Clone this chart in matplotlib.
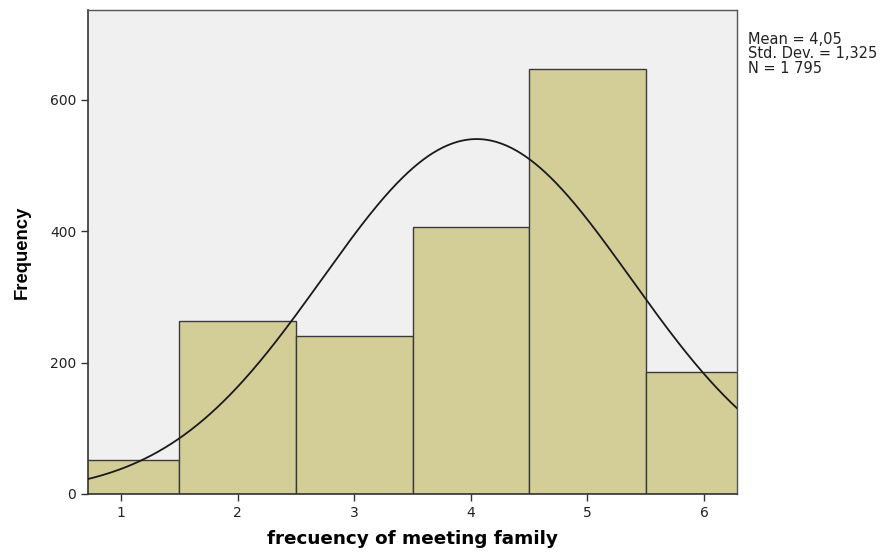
import numpy as np
import matplotlib.pyplot as plt

plt.rcParams['font.family'] = ['DejaVu Sans']

# histogram data
categories = [1, 2, 3, 4, 5, 6]
counts = [52, 263, 241, 406, 647, 186]
mean_val = 4.05
std_val = 1.325
n_total = 1795

fig = plt.figure(figsize=(8.81, 5.52), dpi=100)
ax = fig.add_axes([0.0999, 0.1051, 0.7367, 0.8768])
ax.set_facecolor('#f0f0f0')

ax.bar(categories, counts, width=1.0, color='#d3ce97', edgecolor='#3a3a3a',
       linewidth=1.0, zorder=2)

# normal curve scaled to counts (bin width 1)
xs = np.linspace(0.7, 6.3, 400)
ys = n_total / (std_val * np.sqrt(2 * np.pi)) * np.exp(-0.5 * ((xs - mean_val) / std_val) ** 2)
ax.plot(xs, ys, color='#1a1a1a', linewidth=1.3, zorder=3)

ax.set_xlim(0.716, 6.284)
ax.set_ylim(0, 737)
ax.set_xticks(categories)
ax.set_yticks([0, 200, 400, 600])
ax.tick_params(axis='both', direction='out', length=5, width=1, colors='#333333',
               labelsize=10, labelcolor='#222222')

for side in ['left', 'bottom']:
    ax.spines[side].set_color('#333333')
    ax.spines[side].set_linewidth(1.2)
for side in ['top', 'right']:
    ax.spines[side].set_color('#555555')
    ax.spines[side].set_linewidth(1.0)

ax.set_xlabel('frecuency of meeting family', fontsize=13.2, fontweight='bold', labelpad=7)
ax.set_ylabel('Frequency', fontsize=13.3, fontweight='bold', labelpad=14,
              family=['Liberation Sans', 'DejaVu Sans'])

fig.text(748 / 881, 1 - 32 / 552, 'Mean = 4,05\nStd. Dev. = 1,325\nN = 1 795',
         fontsize=10.5, color='#222222', va='top', ha='left', linespacing=0.95)

fig.savefig('out.png', dpi=100)
